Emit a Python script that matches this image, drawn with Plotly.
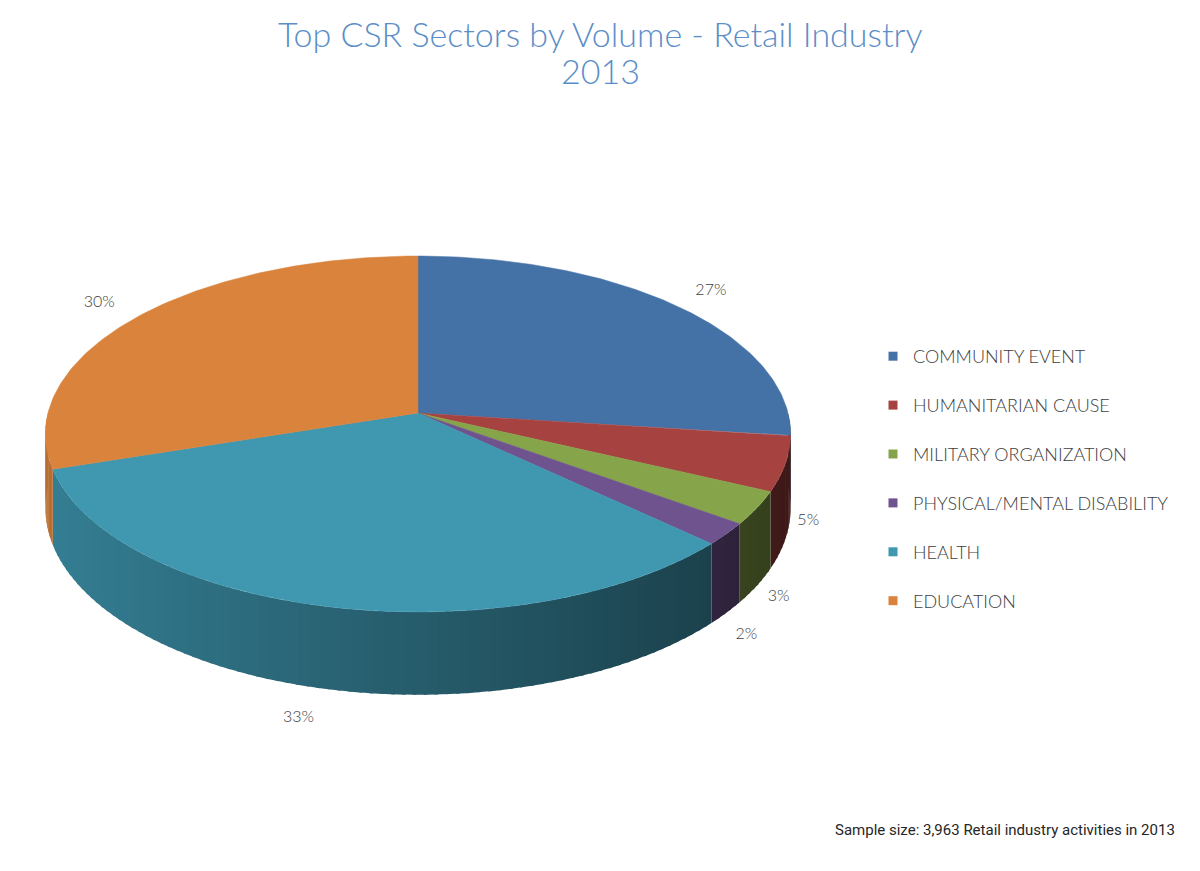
import numpy as np
import plotly.graph_objects as go

sectors = ["COMMUNITY EVENT", "HUMANITARIAN CAUSE", "MILITARY ORGANIZATION",
           "PHYSICAL/MENTAL DISABILITY", "HEALTH", "EDUCATION"]
shares = [27, 5, 3, 2, 33, 30]
colors = ["#4471a6", "#a64341", "#86a54b", "#6f538f", "#3f97b0", "#d9833c"]

title_line1 = "Top CSR Sectors by Volume - Retail Industry"
title_line2 = "2013"
note = "Sample size: 3,963 Retail industry activities in 2013"

# the page body has an 8px margin, so the figure sits at (8, 8)
OFF = 8
W, H = 1200 - OFF, 871 - OFF

# pie geometry, in page pixels
CX, CY = 418, 413
RX, RY = 370, 175.5
K = 0.118      # perspective strength
DEPTH = 73     # thickness of the pie

FONT = "Lato, Open Sans, sans-serif"


def px(x):
    return (x - OFF) / W


def py(y):
    return 1 - (y - OFF) / H


def project(theta, r=1.0, drop=0.0):
    # theta in degrees, clockwise from 12 o'clock
    t = np.radians(theta)
    X = r * np.sin(t)
    Y = -r * np.cos(t)
    w = 1 - K * Y
    return CX + RX * X / w, CY + RY * Y / w + drop * DEPTH / w


def shade(hexcol, f):
    h = hexcol.lstrip("#")
    rgb = [int(h[i:i + 2], 16) for i in (0, 2, 4)]
    return "rgb(%d,%d,%d)" % tuple(min(255, int(c * f)) for c in rgb)


def light(theta):
    # side gets darker from the left towards the right
    return 0.61 + 0.24 * np.cos(np.radians(theta - 270))


total = sum(shares)
bounds = np.concatenate([[0], np.cumsum(shares)]) / total * 360.0

fig = go.Figure()

# side walls (only the front half is visible)
for i, (name, col) in enumerate(zip(sectors, colors)):
    lo, hi = max(bounds[i], 90), min(bounds[i + 1], 270)
    if hi <= lo:
        continue
    n = int(np.ceil((hi - lo) / 1.5))
    edges = np.linspace(lo, hi, n + 1)
    for a, b in zip(edges[:-1], edges[1:]):
        # small overlap with the next strip hides seams
        ang = np.array([max(lo, a - 0.5), b])
        tx, ty = project(ang)
        bx, by = project(ang[::-1], drop=1.0)
        c = shade(col, light((a + b) / 2))
        fig.add_trace(go.Scatter(
            x=np.concatenate([tx, bx, tx[:1]]), y=np.concatenate([ty, by, ty[:1]]),
            mode="lines", fill="toself", fillcolor=c,
            line=dict(width=0), showlegend=False, hoverinfo="skip"))

# top faces
for i, (name, col, v) in enumerate(zip(sectors, colors, shares)):
    ang = np.linspace(bounds[i], bounds[i + 1], 120)
    ax, ay = project(ang)
    fig.add_trace(go.Scatter(
        x=np.concatenate([[CX], ax, [CX]]), y=np.concatenate([[CY], ay, [CY]]),
        mode="lines", fill="toself", fillcolor=col,
        line=dict(color=col, width=0.5), showlegend=False,
        name=name, text="%s: %d%%" % (name, v), hoverinfo="text"))

# data labels outside the pie
mid = (bounds[:-1] + bounds[1:]) / 2
yfront = -np.cos(np.radians(mid))
front = yfront > 0
rad = np.where(front, 1.06, 1.15)
drop = np.where(front, np.minimum(1.18, 0.3 + 1.5 * yfront), 0.0)
lx, ly = project(mid, r=rad, drop=drop)
# labels left of centre sit a bit further out horizontally
lx = np.where(front & (lx < CX), lx - 22, lx)
fig.add_trace(go.Scatter(
    x=lx, y=ly, mode="text", text=["%d%%" % v for v in shares],
    textfont=dict(family=FONT, size=16, color="#404040", weight=300),
    showlegend=False, hoverinfo="skip"))

# legend entries
for name, col in zip(sectors, colors):
    fig.add_trace(go.Scatter(
        x=[None], y=[None], mode="markers", name=name, legendgroup=name,
        marker=dict(symbol="square", size=9, color=col)))

fig.update_layout(
    width=W, height=H, autosize=False,
    margin=dict(l=0, r=0, t=0, b=0),
    paper_bgcolor="white", plot_bgcolor="white",
    xaxis=dict(range=[OFF, 1200], visible=False, fixedrange=True),
    yaxis=dict(range=[871, OFF], visible=False, fixedrange=True),
    legend=dict(x=px(873), y=py(338), xanchor="left", yanchor="top",
                font=dict(family=FONT, size=18, color="#404040", weight=300),
                tracegroupgap=22.5, bgcolor="rgba(0,0,0,0)"),
    annotations=[
        dict(text=title_line1, xref="paper", yref="paper", x=px(600), y=py(33),
             xanchor="center", yanchor="middle", showarrow=False,
             font=dict(family=FONT, size=34, color="#5b8ec8", weight=300)),
        dict(text=title_line2, xref="paper", yref="paper", x=px(600), y=py(71),
             xanchor="center", yanchor="middle", showarrow=False,
             font=dict(family=FONT, size=34, color="#5b8ec8", weight=300)),
        dict(text=note, xref="paper", yref="paper", x=px(1177), y=py(830),
             xanchor="right", yanchor="middle", showarrow=False,
             font=dict(family="Liberation Sans Narrow, Roboto, sans-serif",
                       size=15, color="#262626")),
    ],
)

fig.write_html("out.html")
